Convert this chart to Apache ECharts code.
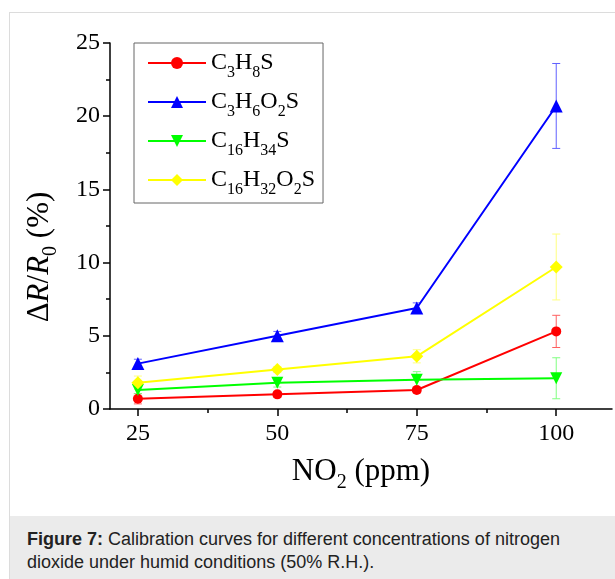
<!DOCTYPE html>
<html>
<head>
<meta charset="utf-8">
<script src="https://cdn.jsdelivr.net/npm/echarts@6/dist/echarts.min.js"></script>
<style>
    body { margin: 0; background: #fff; }
    #frame { position: absolute; left: 9px; top: 12px; width: 620px; height: 566px; border: 1px solid #dcdcdc; }
    #chart { position: absolute; left: 0; top: 0; width: 615px; height: 516px; }
    #caption {
        position: absolute; left: 10px; top: 516px; width: 605px; height: 63px;
        background: #ebebeb; font-family: "Liberation Sans", Arial, sans-serif;
        font-size: 18px; line-height: 23px; color: #222; padding: 12px 18px 0 17px; box-sizing: border-box;
    }
</style>
</head>
<body>
<div id="frame"></div>
<div id="chart"></div>
<div id="caption"><b>Figure 7:</b> Calibration curves for different concentrations of nitrogen dioxide under humid conditions (50% R.H.).</div>
<script>
    // NO2 concentration (ppm)
    var conc = [25, 50, 75, 100];
    var xTicks = [25, 50, 75, 100];
    var xMinorTicks = [37.5, 62.5, 87.5];

    var names = ['C3H8S', 'C3H6O2S', 'C16H34S', 'C16H32O2S'];
    var colors = ['#ff0000', '#0000ff', '#00ff00', '#ffff00'];
    var barColors = ['#ff6060', '#6060ff', '#80ff80', '#ffff80'];

    var c3h8s = [0.7, 1.0, 1.3, 5.3];
    var c3h6o2s = [3.1, 5.0, 6.9, 20.7];
    var c16h34s = [1.3, 1.8, 2.0, 2.1];
    var c16h32o2s = [1.8, 2.7, 3.6, 9.7];

    var c3h8sErr = [0.35, 0.2, 0.2, 1.1];
    var c3h6o2sErr = [0.3, 0.3, 0.35, 2.9];
    var c16h34sErr = [0.25, 0.3, 0.55, 1.4];
    var c16h32o2sErr = [0.45, 0.2, 0.45, 2.25];

    var values = [c3h8s, c3h6o2s, c16h34s, c16h32o2s];
    var errors = [c3h8sErr, c3h6o2sErr, c16h34sErr, c16h32o2sErr];
    var symbols = ['circle', 'triangle', 'triangle', 'diamond'];
    var symbolSizes = [10, 13, 12, 13];
    var rotates = [0, 0, 180, 0];

    var serif = '"Liberation Serif", "Times New Roman", serif';

    function subscript(name) {
        return name.replace(/(\d+)/g, '{s|$1}');
    }

    var series = [];
    names.forEach(function (name, i) {
        var errData = conc.map(function (x, j) {
            return [x, values[i][j] - errors[i][j], values[i][j] + errors[i][j]];
        });
        series.push({
            type: 'custom',
            name: name + '_err',
            z: 1,
            silent: true,
            data: errData,
            renderItem: function (params, api) {
                var top = api.coord([api.value(0), api.value(2)]);
                var bot = api.coord([api.value(0), api.value(1)]);
                var w = 4;
                var st = { stroke: barColors[i], lineWidth: 1 };
                return {
                    type: 'group',
                    children: [
                        { type: 'line', shape: { x1: top[0], y1: top[1], x2: bot[0], y2: bot[1] }, style: st },
                        { type: 'line', shape: { x1: top[0] - w, y1: top[1], x2: top[0] + w, y2: top[1] }, style: st },
                        { type: 'line', shape: { x1: bot[0] - w, y1: bot[1], x2: bot[0] + w, y2: bot[1] }, style: st }
                    ]
                };
            }
        });
        series.push({
            type: 'line',
            name: name,
            z: 2,
            data: conc.map(function (x, j) { return [x, values[i][j]]; }),
            symbol: symbols[i],
            symbolSize: symbolSizes[i],
            symbolRotate: rotates[i],
            showAllSymbol: true,
            lineStyle: { color: colors[i], width: 2 },
            itemStyle: { color: colors[i] }
        });
    });

    // subscript style: pushed down with top padding
    var subBig = { fontFamily: serif, fontSize: 20, lineHeight: 36, verticalAlign: 'top', padding: [19, 0, 0, 0], color: '#000' };

    var chart = echarts.init(document.getElementById('chart'));
    chart.setOption({
        animation: false,
        grid: { left: 110, top: 43, width: 502, height: 366 },
        legend: {
            data: names,
            orient: 'vertical',
            left: 134,
            top: 43,
            padding: [5, 8, 5, 13],
            itemGap: 6,
            itemWidth: 58,
            itemHeight: 15,
            borderColor: '#666',
            borderWidth: 1,
            formatter: subscript,
            textStyle: {
                fontFamily: serif, fontSize: 24, color: '#000', lineHeight: 30,
                rich: {
                    s: { fontFamily: serif, fontSize: 16, lineHeight: 30, verticalAlign: 'top', padding: [17, 0, 0, 0], color: '#000' }
                }
            }
        },
        xAxis: [{
            type: 'value',
            position: 'bottom',
            min: 20,
            max: 110,
            name: 'NO{s|2} (ppm)',
            nameLocation: 'middle',
            nameGap: 45,
            nameTextStyle: {
                fontFamily: serif, fontSize: 31, color: '#000', lineHeight: 36,
                rich: { s: subBig }
            },
            axisLine: { lineStyle: { color: '#000', width: 1.5 } },
            axisTick: { customValues: xTicks, length: 7, lineStyle: { color: '#000', width: 1.5 } },
            axisLabel: { customValues: xTicks, margin: 13, fontFamily: serif, fontSize: 24, color: '#000' },
            splitLine: { show: false }
        }, {
            type: 'value',
            position: 'bottom',
            min: 20,
            max: 110,
            axisLine: { show: false },
            axisTick: { customValues: xMinorTicks, length: 4, lineStyle: { color: '#000', width: 1.5 } },
            axisLabel: { show: false },
            splitLine: { show: false }
        }],
        yAxis: {
            type: 'value',
            min: 0,
            max: 25,
            interval: 5,
            name: 'Δ{i|R}/{i|R}{s|0} (%)',
            nameLocation: 'middle',
            nameGap: 52,
            nameTextStyle: {
                fontFamily: serif, fontSize: 31, color: '#000', lineHeight: 36,
                padding: [0, 62, 0, 0],
                rich: {
                    i: { fontFamily: serif, fontSize: 31, fontStyle: 'italic', color: '#000', lineHeight: 36 },
                    s: subBig
                }
            },
            axisLine: { show: true, lineStyle: { color: '#000', width: 1.5 } },
            axisTick: { length: 7, lineStyle: { color: '#000', width: 1.5 } },
            minorTick: { show: true, splitNumber: 2, length: 4, lineStyle: { color: '#000', width: 1.5 } },
            axisLabel: { margin: 10, fontFamily: serif, fontSize: 24, color: '#000' },
            splitLine: { show: false },
            minorSplitLine: { show: false }
        },
        series: series
    });
</script>
</body>
</html>
